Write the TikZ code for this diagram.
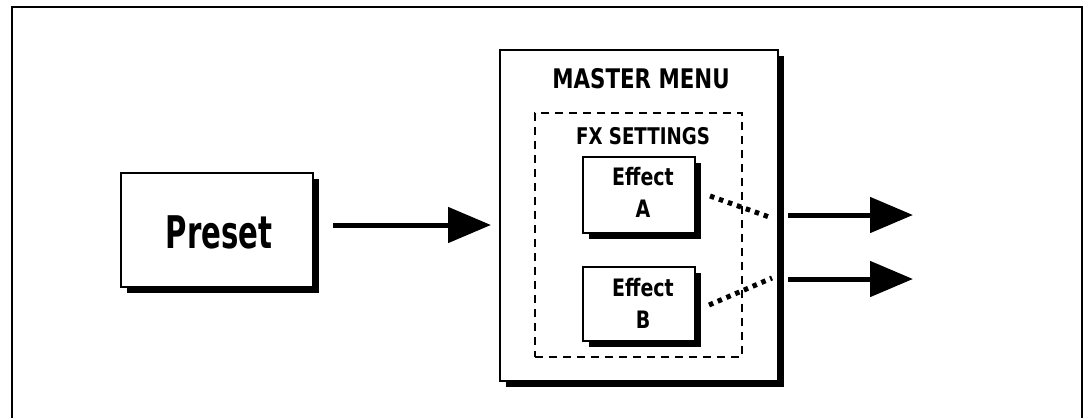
\documentclass[tikz,border=0pt]{standalone}
\usepackage{fontspec}
\newfontfamily\pix[FakeStretch=0.72]{DejaVu Sans Condensed Bold}
\newfontfamily\pixw[FakeStretch=0.88]{DejaVu Sans Condensed Bold}
\usetikzlibrary{arrows.meta,shadows}
\begin{document}
\begin{tikzpicture}[x=1pt,y=-1pt,
  box/.style={draw=black,line width=2pt,fill=white,rectangle,inner sep=0pt,
    drop shadow={shadow xshift=6pt,shadow yshift=-6pt,opacity=1,fill=black}},
  dashbox/.style={draw=black,line width=1.6pt,rectangle,inner sep=0pt,dash pattern=on 8pt off 6pt},
  arr/.style={line width=5pt,-{Triangle[length=43pt,width=35pt]}},
  dots/.style={line width=5pt,dash pattern=on 4.5pt off 5pt},
  lbl/.style={inner sep=0pt}]
\useasboundingbox (0,0) rectangle (1088,418);
\fill[white] (0,0) rectangle (1088,418);
\draw[line width=2pt] (12,418) -- (12,7) -- (1082,7) -- (1082,418);
% Preset
\node[box,minimum width=192pt,minimum height=114pt] (preset) at (217,230) {};
\node[lbl,font=\pix\fontsize{45}{45}\selectfont] (presettxt) at (219,232) {Preset};
% master
\node[box,minimum width=278pt,minimum height=331pt] (master) at (639,215.5) {};
\node[lbl,font=\pixw\fontsize{27}{27}\selectfont] (mastertxt) at (641,79) {MASTER MENU};
\node[dashbox,minimum width=207pt,minimum height=244pt] (fx) at (638.5,235) {};
\node[lbl,font=\pixw\fontsize{23}{23}\selectfont] (fxtxt) at (643,136) {FX SETTINGS};
\node[box,minimum width=112pt,minimum height=76pt] (effA) at (639,195) {};
\node[box,minimum width=112pt,minimum height=74pt] (effB) at (639,304) {};
\node[lbl,font=\pixw\fontsize{24}{24}\selectfont,align=center] (effAtxt) at (643,192.5) {Effect\\[8pt]A};
\node[lbl,font=\pixw\fontsize{24}{24}\selectfont,align=center] (effBtxt) at (643,303.5) {Effect\\[8pt]B};
% connectors
\coordinate (a1) at ([xshift=14pt,yshift=-1pt]effA.east);
\coordinate (a2) at (772,218);
\coordinate (b1) at ([xshift=13pt,yshift=-1pt]effB.east);
\coordinate (b2) at (772,278);
\draw[dots] (a1) -- (a2);
\draw[dots] (b1) -- (b2);
\coordinate (inS) at ([xshift=19pt,yshift=5pt]preset.east);
\coordinate (inE) at ([xshift=-8pt]master.west |- inS);
\draw[arr] (inS) -- (inE);
\coordinate (oA1) at (788,215);
\coordinate (oA2) at (913,215);
\coordinate (oB1) at (788,279);
\coordinate (oB2) at (913,279);
\draw[arr] (oA1) -- (oA2);
\draw[arr] (oB1) -- (oB2);
\end{tikzpicture}
\end{document}
